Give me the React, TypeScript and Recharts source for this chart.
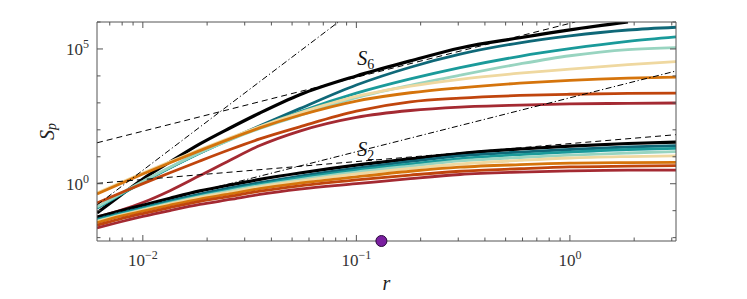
import React from "react";
import { LineChart, Line, XAxis, YAxis, ReferenceDot } from "recharts";

// separation distances (shared grid for every curve)
const rValues = [0.0061, 0.0078, 0.01, 0.0134, 0.0185, 0.0256, 0.0353, 0.0543, 0.1, 0.179, 0.306, 0.583, 1.0, 1.87, 3.14];

// S_6 family
const s6Black = [0.082, 0.35, 1.5, 6.4, 30, 117, 420, 2000, 1.0e4, 3.6e4, 1.09e5, 2.6e5, 5.1e5, 1.0e6, null];
const s6DarkTeal = [0.126, 0.39, 1.17, 3.9, 13.7, 46, 141, 610, 4600, 2.1e4, 6.4e4, 1.69e5, 3.05e5, 5.05e5, 6.4e5];
const s6Teal = [0.126, 0.38, 1.14, 3.9, 13.7, 44, 128, 467, 2280, 7700, 2.03e4, 5.35e4, 1.02e5, 1.91e5, 2.8e5];
const s6Mint = [0.136, 0.41, 1.24, 4.1, 14.1, 42.5, 112, 342, 1570, 4490, 1.06e4, 2.79e4, 5.6e4, 9.5e4, 1.12e5];
const s6Beige = [0.45, 1.07, 2.49, 6.5, 18.5, 50.6, 133, 426, 1730, 4160, 7500, 1.26e4, 1.79e4, 2.6e4, 3.37e4];
const s6Orange = [0.414, 0.98, 2.29, 6.0, 16.9, 46.3, 118, 347, 1170, 2370, 3630, 5360, 6820, 8240, 8990];
const s6DarkOrange = [0.192, 0.445, 1.01, 2.57, 7.0, 18.6, 45.9, 129, 494, 1090, 1500, 1880, 2090, 2230, 2290];
const s6DarkRed = [0.058, 0.1, 0.2, 0.55, 2.0, 7.5, 26, 90, 290, 520, 700, 830, 910, 960, 990];

// S_2 family
const s2Black = [0.058, 0.097, 0.16, 0.29, 0.54, 0.9, 1.45, 2.5, 4.9, 8.3, 13.2, 19.4, 25, 31, 35];
const s2DarkTeal = [0.049, 0.082, 0.13, 0.23, 0.41, 0.7, 1.1, 1.93, 3.8, 6.7, 10.7, 15, 18.6, 23, 25.8];
const s2Teal = [0.045, 0.075, 0.12, 0.21, 0.36, 0.6, 0.95, 1.63, 3.2, 5.4, 8.6, 12.1, 15, 18.6, 20.6];
const s2Mint = [0.041, 0.069, 0.11, 0.19, 0.33, 0.54, 0.85, 1.43, 2.7, 4.5, 7.0, 9.4, 11.6, 13.8, 15.4];
const s2Beige = [0.04, 0.066, 0.106, 0.18, 0.31, 0.49, 0.77, 1.26, 2.3, 3.7, 5.4, 7.3, 9.0, 10.2, 10.9];
const s2Orange = [0.036, 0.061, 0.097, 0.16, 0.27, 0.42, 0.66, 1.05, 1.8, 2.9, 4.1, 5.1, 5.8, 6.1, 6.2];
const s2DarkOrange = [0.029, 0.049, 0.078, 0.13, 0.22, 0.34, 0.53, 0.84, 1.4, 2.1, 2.9, 3.6, 4.2, 4.5, 4.7];
const s2DarkRed = [0.023, 0.038, 0.061, 0.101, 0.17, 0.26, 0.4, 0.63, 1.0, 1.55, 2.2, 2.7, 3.0, 3.2, 3.2];

// power-law guides (endpoints)
const s6DashedR = [0.0061, 1.06];
const s6DashedV = [33, 1.0e6];
const s6DashDotR = [0.0061, 0.0824];
const s6DashDotV = [0.162, 1.0e6];
const s2DashedR = [0.0061, 3.14];
const s2DashedV = [1.03, 66];
const s2DashDotR = [0.0061, 3.14];
const s2DashDotV = [0.057, 15200];

const markerR = 0.131;

const xTicks = [0.007, 0.008, 0.009, 0.01, 0.02, 0.03, 0.04, 0.05, 0.06, 0.07, 0.08, 0.09, 0.1,
  0.2, 0.3, 0.4, 0.5, 0.6, 0.7, 0.8, 0.9, 1, 2, 3];
const xMajor: Record<string, string> = { "0.01": "−2", "0.1": "−1", "1": "0" };
const yTicks = [0.01, 0.1, 1, 10, 100, 1000, 1e4, 1e5, 1e6];
const yMajor: Record<string, string> = { "1": "0", "100000": "5" };

const COLORS = ["#000000", "#0f6878", "#1a9a9a", "#98d4c0", "#efd8a0", "#d5740c", "#c0450d", "#a42a32"];
const s6 = [s6Black, s6DarkTeal, s6Teal, s6Mint, s6Beige, s6Orange, s6DarkOrange, s6DarkRed];
const s2 = [s2Black, s2DarkTeal, s2Teal, s2Mint, s2Beige, s2Orange, s2DarkOrange, s2DarkRed];

const FONT = "'Liberation Serif', 'DejaVu Serif', serif";
const AXIS = "#555";

const data = rValues.map((r, i) => {
  const row: any = { r };
  s6.forEach((s, k) => (row["a" + k] = s[i]));
  s2.forEach((s, k) => (row["b" + k] = s[i]));
  return row;
});

const pairs = (rs: number[], vs: number[]) => rs.map((r, i) => ({ r, v: vs[i] }));

const XTick = ({ x, y, payload, top }: any) => {
  const exp = xMajor[String(payload.value)];
  const len = exp ? 6 : 3.5;
  const dir = top ? 1 : -1;
  return (
    <g>
      <line x1={x} x2={x} y1={y} y2={y + dir * len} stroke={AXIS} strokeWidth={1} />
      {!top && exp && (
        <text x={x} y={y + 25} textAnchor="middle" fontFamily={FONT} fontSize={17} fill="#333">
          10<tspan dy={-7} fontSize={12}>{exp}</tspan>
        </text>
      )}
    </g>
  );
};

const YTick = ({ x, y, payload, right }: any) => {
  const exp = yMajor[String(payload.value)];
  const len = exp ? 6 : 3.5;
  const dir = right ? -1 : 1;
  return (
    <g>
      <line x1={x} x2={x + dir * len} y1={y} y2={y} stroke={AXIS} strokeWidth={1} />
      {!right && exp && (
        <text x={x - 8} y={y + 6} textAnchor="end" fontFamily={FONT} fontSize={17} fill="#333">
          10<tspan dy={-7} fontSize={12}>{exp}</tspan>
        </text>
      )}
    </g>
  );
};

const sLabel = (sub: string) => (props: any) => {
  const { viewBox } = props;
  const x = viewBox.x + viewBox.width / 2;
  const y = viewBox.y + viewBox.height / 2;
  return (
    <text x={x} y={y} fontFamily={FONT} fontSize={20} fill="#111">
      <tspan fontStyle="italic">S</tspan>
      <tspan dy={4} fontSize={14}>{sub}</tspan>
    </text>
  );
};

export default function App() {
  return (
    <div style={{ position: "absolute", left: 0, top: 0, width: 747, height: 299, background: "#fff" }}>
      <LineChart width={747} height={299} data={data} margin={{ top: 12, right: 61, bottom: 18, left: 37 }}>
        <XAxis
          xAxisId="b" dataKey="r" type="number" scale="log" domain={[0.0061, 3.14]} allowDataOverflow
          ticks={xTicks} interval={0} height={40} tickSize={0} tickMargin={0}
          axisLine={{ stroke: AXIS }} tickLine={false}
          tick={(p: any) => <XTick {...p} />}
          label={{
            content: (p: any) => (
              <text x={p.viewBox.x + p.viewBox.width / 2} y={p.viewBox.y + 49} textAnchor="middle"
                fontFamily={FONT} fontStyle="italic" fontSize={20} fill="#222">r</text>
            ),
          }}
        />
        <XAxis
          xAxisId="t" orientation="top" dataKey="r" type="number" scale="log" domain={[0.0061, 3.14]} allowDataOverflow
          ticks={xTicks} interval={0} height={10} tickSize={0} tickMargin={0}
          axisLine={{ stroke: AXIS }} tickLine={false}
          tick={(p: any) => <XTick {...p} top />}
        />
        <YAxis
          yAxisId="l" type="number" scale="log" domain={[0.0075, 1.0e6]} allowDataOverflow
          ticks={yTicks} interval={0} width={60} tickSize={0} tickMargin={0}
          axisLine={{ stroke: AXIS }} tickLine={false}
          tick={(p: any) => <YTick {...p} />}
          label={{
            content: (p: any) => {
              const cx = 47;
              const cy = p.viewBox.y + p.viewBox.height / 2;
              return (
                <text x={cx} y={cy} transform={`rotate(-90 ${cx} ${cy})`} textAnchor="middle"
                  dominantBaseline="central" fontFamily={FONT} fontSize={20} fill="#222">
                  <tspan fontStyle="italic">S</tspan>
                  <tspan dy={4} fontSize={14} fontStyle="italic">p</tspan>
                </text>
              );
            },
          }}
        />
        <YAxis
          yAxisId="r" orientation="right" type="number" scale="log" domain={[0.0075, 1.0e6]} allowDataOverflow
          ticks={yTicks} interval={0} width={10} tickSize={0} tickMargin={0}
          axisLine={{ stroke: AXIS }} tickLine={false}
          tick={(p: any) => <YTick {...p} right />}
        />

        {s6.map((_, k) => (
          <Line key={"a" + k} xAxisId="b" yAxisId="l" dataKey={"a" + k} type="monotone"
            stroke={COLORS[k]} strokeWidth={k === 0 ? 3.2 : 2.8} dot={false} isAnimationActive={false} />
        ))}
        {s2.map((_, k) => (
          <Line key={"b" + k} xAxisId="b" yAxisId="l" dataKey={"b" + k} type="monotone"
            stroke={COLORS[k]} strokeWidth={k === 0 ? 3.2 : 2.8} dot={false} isAnimationActive={false} />
        ))}

        <Line xAxisId="b" yAxisId="l" data={pairs(s6DashedR, s6DashedV)} dataKey="v" type="linear"
          stroke="#000" strokeWidth={1} strokeDasharray="6 4" dot={false} isAnimationActive={false} />
        <Line xAxisId="b" yAxisId="l" data={pairs(s6DashDotR, s6DashDotV)} dataKey="v" type="linear"
          stroke="#000" strokeWidth={1} strokeDasharray="6 2.5 1.2 2.5" dot={false} isAnimationActive={false} />
        <Line xAxisId="b" yAxisId="l" data={pairs(s2DashedR, s2DashedV)} dataKey="v" type="linear"
          stroke="#000" strokeWidth={1} strokeDasharray="6 4" dot={false} isAnimationActive={false} />
        <Line xAxisId="b" yAxisId="l" data={pairs(s2DashDotR, s2DashDotV)} dataKey="v" type="linear"
          stroke="#000" strokeWidth={1} strokeDasharray="6 2.5 1.2 2.5" dot={false} isAnimationActive={false} />

        <ReferenceDot xAxisId="b" yAxisId="l" x={0.101} y={2.5e4} r={1} fill="none" stroke="none"
          label={{ content: sLabel("6") }} />
        <ReferenceDot xAxisId="b" yAxisId="l" x={0.101} y={10.7} r={1} fill="none" stroke="none"
          label={{ content: sLabel("2") }} />
        <ReferenceDot xAxisId="b" yAxisId="l" x={markerR} y={0.0075} r={5.5} fill="#7a1fa0"
          stroke="#2b0a3d" strokeWidth={1} ifOverflow="visible" />
      </LineChart>
    </div>
  );
}
